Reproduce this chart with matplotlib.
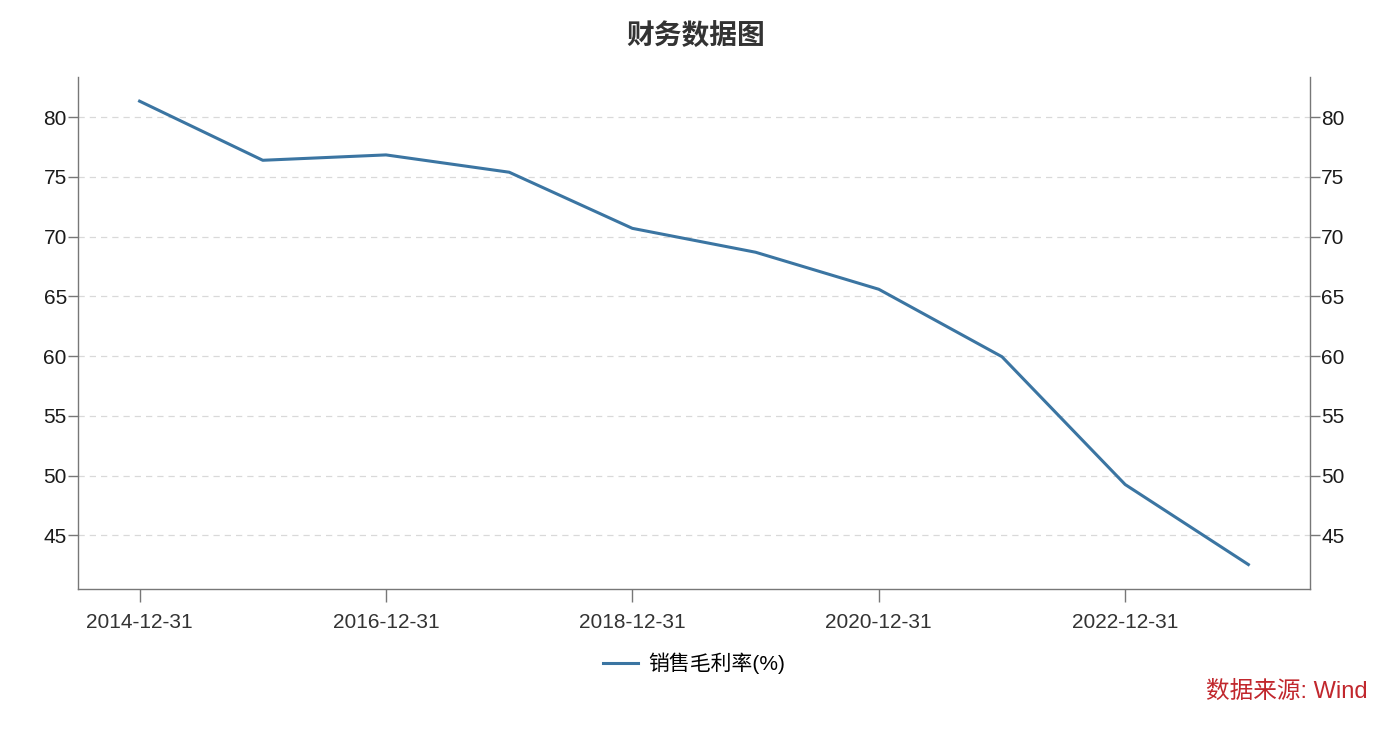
import matplotlib
matplotlib.use("Agg")
import matplotlib.pyplot as plt

plt.rcParams['font.family'] = ['Liberation Sans', 'Noto Sans CJK SC', 'DejaVu Sans']

dates = ['2014-12-31', '2015-12-31', '2016-12-31', '2017-12-31', '2018-12-31',
         '2019-12-31', '2020-12-31', '2021-12-31', '2022-12-31', '2023-12-31']
margin = [81.35, 76.4, 76.85, 75.4, 70.7, 68.7, 65.6, 59.95, 49.25, 42.55]
series_name = '销售毛利率(%)'
yticks = [45, 50, 55, 60, 65, 70, 75, 80]

fig = plt.figure(figsize=(14, 7.29), dpi=100)
ax = fig.add_axes([0.0557, 0.192, 0.88, 0.702])

x = list(range(len(dates)))
ax.plot(x, margin, color='#3b75a2', lw=2.2, label=series_name, solid_joinstyle='round')

ax.set_xlim(-0.5, 9.5)
ax.set_ylim(40.5, 83.35)
ax.set_xticks(x[::2])
ax.set_xticklabels(dates[::2])
ax.set_yticks(yticks)
ax.yaxis.grid(True, ls=(0, (5, 4)), color='#d9d9d9', lw=0.9)
ax.set_axisbelow(True)

for s in ['left', 'right', 'bottom']:
    ax.spines[s].set_color('#777777')
    ax.spines[s].set_linewidth(1.0)
ax.spines['top'].set_visible(False)

ax.tick_params(axis='both', direction='out', length=7, width=1, color='#777777',
               labelsize=15, labelcolor='#1a1a1a')
ax.tick_params(axis='x', length=9, pad=8, labelcolor='#333333')
ax.tick_params(axis='y', labelright=True, right=True, pad=1)

fig.text(0.497, 0.949, '财务数据图', ha='center', va='center', fontsize=20,
         fontweight='bold', color='#333333')

ax.legend(loc='center', bbox_to_anchor=(0.5, -0.145), frameon=False, fontsize=15,
          handlelength=1.7, handletextpad=0.5)

fig.text(0.977, 0.051, '数据来源: Wind', ha='right', va='center', fontsize=17,
         color='#c1272d')

fig.savefig('out.png', dpi=100, facecolor='white')
